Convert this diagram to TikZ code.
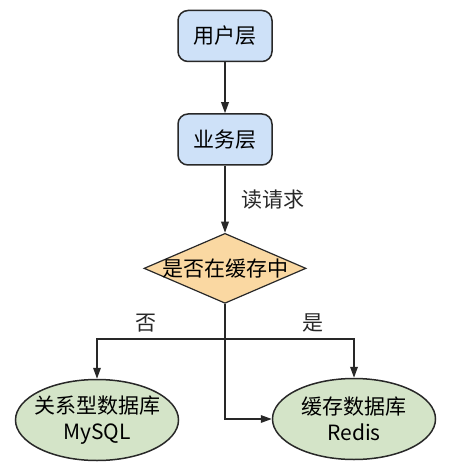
\documentclass[tikz,border=0pt]{standalone}
\usepackage{fontspec}
\setmainfont{Noto Sans CJK SC}
\usetikzlibrary{shapes.geometric, arrows.meta, positioning}
\usepackage{xcolor}
\definecolor{flowline}{RGB}{40, 40, 40}
\definecolor{layerblue}{RGB}{206, 225, 248}
\definecolor{checkorange}{RGB}{250, 216, 162}
\definecolor{storegreen}{RGB}{212, 228, 200}
\tikzset{
  layerbox/.style={
    rectangle, rounded corners=5pt,
    draw=flowline, fill=layerblue, line width=0.75pt,
    minimum width=47pt, minimum height=25.5pt,
    font=\fontsize{10.5}{12.6}\selectfont, inner sep=2pt
  },
  decision/.style={
    diamond, shape aspect=2.3,
    draw=flowline, fill=checkorange, line width=0.6pt,
    minimum width=81pt, minimum height=35pt,
    inner xsep=-3pt, inner ysep=0pt,
    font=\fontsize{10.5}{12.6}\selectfont
  },
  storenode/.style={
    ellipse,
    draw=flowline, fill=storegreen, line width=0.75pt,
    minimum width=81.5pt, minimum height=40.5pt,
    inner xsep=-3pt, inner ysep=0pt, align=center,
    font=\fontsize{10.5}{12.8}\selectfont
  },
  arr/.style={-{Triangle[length=5.5pt, width=3.8pt]}, line width=0.75pt, color=flowline},
  lbl/.style={font=\fontsize{10.5}{12.6}\selectfont, inner sep=1pt},
}
\begin{document}
\begin{tikzpicture}[x=0.5pt, y=-0.5pt]
    \useasboundingbox (0,0) rectangle (469,470);

    \node[layerbox] (user) at (225,36) {用户层};
    \node[layerbox, below=25.5pt of user] (biz) {业务层};
    \node[decision, below=33.5pt of biz] (check) {是否在缓存中};

    \node[storenode] (mysql) at (97,420) {关系型数据库\\MySQL};
    \node[storenode] (redis) at (354,419) {缓存数据库\\Redis};

    \coordinate (split) at (check.south |- 0,339);

    \draw[arr] (user) -- (biz);
    \draw[arr] (biz) -- node[lbl, right=7pt] {读请求} (check);
    \draw[arr] (check.south) |- (redis.west);
    \draw[arr] (split) -| node[lbl, pos=0.31, above=2pt] {否} (mysql.north);
    \draw[arr] (split) -| node[lbl, pos=0.34, above=2pt] {是} (redis.north);
\end{tikzpicture}
\end{document}
